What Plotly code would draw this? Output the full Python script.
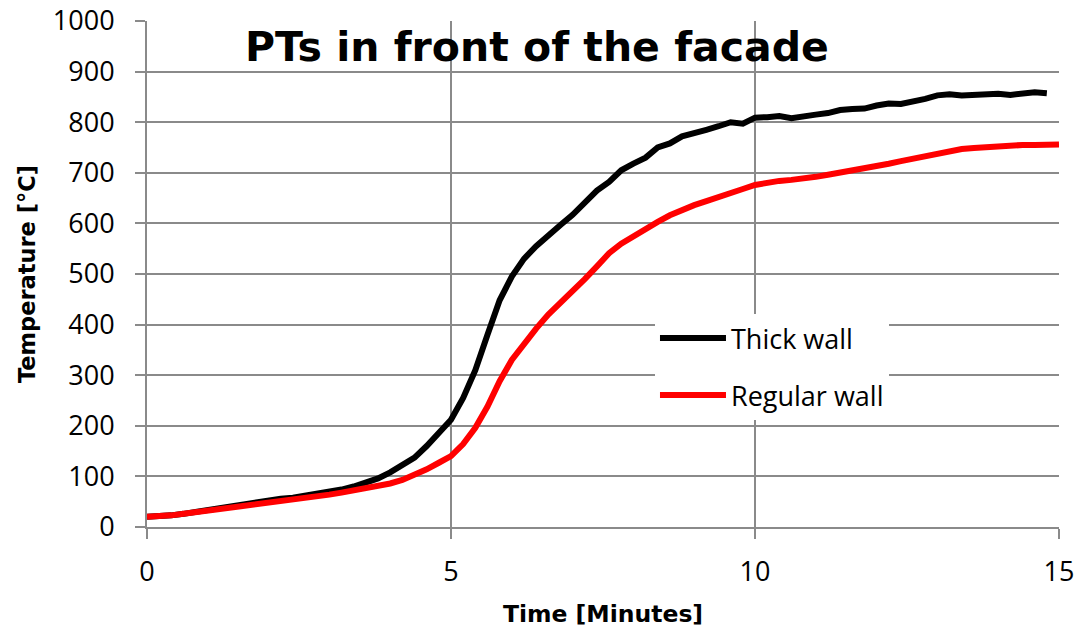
import plotly.graph_objects as go

time_thick = [0.0, 0.2, 0.4, 0.6, 0.8, 1.0, 1.2, 1.4, 1.6, 1.8, 2.0, 2.2, 2.4, 2.6, 2.8,
              3.0, 3.2, 3.4, 3.6, 3.8, 4.0, 4.2, 4.4, 4.6, 4.8, 5.0, 5.2, 5.4, 5.6, 5.8,
              6.0, 6.2, 6.4, 6.6, 6.8, 7.0, 7.2, 7.4, 7.6, 7.8, 8.0, 8.2, 8.4, 8.6, 8.8,
              9.0, 9.2, 9.4, 9.6, 9.8, 10.0, 10.2, 10.4, 10.6, 10.8, 11.0, 11.2, 11.4, 11.6, 11.8,
              12.0, 12.2, 12.4, 12.6, 12.8, 13.0, 13.2, 13.4, 13.6, 13.8, 14.0, 14.2, 14.4, 14.6, 14.8]
temp_thick = [20, 21, 23, 26, 30, 35, 39, 43, 46, 50, 53, 56, 58, 62, 65,
              69, 74, 80, 87, 96, 108, 121, 137, 160, 188, 212, 255, 310, 380, 448,
              495, 530, 555, 578, 597, 617, 640, 665, 682, 705, 718, 730, 750, 758, 772,
              780, 785, 792, 800, 797, 809, 810, 812, 808, 813, 815, 818, 824, 826, 827,
              833, 837, 836, 840, 846, 853, 855, 853, 854, 855, 856, 854, 857, 859, 857]

time_regular = [0.0, 0.2, 0.4, 0.6, 0.8, 1.0, 1.2, 1.4, 1.6, 1.8, 2.0, 2.2, 2.4, 2.6, 2.8,
                3.0, 3.2, 3.4, 3.6, 3.8, 4.0, 4.2, 4.4, 4.6, 4.8, 5.0, 5.2, 5.4, 5.6, 5.8,
                6.0, 6.2, 6.4, 6.6, 6.8, 7.0, 7.2, 7.4, 7.6, 7.8, 8.0, 8.2, 8.4, 8.6, 8.8,
                9.0, 9.2, 9.4, 9.6, 9.8, 10.0, 10.2, 10.4, 10.6, 10.8, 11.0, 11.2, 11.4, 11.6, 11.8,
                12.0, 12.2, 12.4, 12.6, 12.8, 13.0, 13.2, 13.4, 13.6, 13.8, 14.0, 14.2, 14.4, 14.6, 14.8, 15.0]
temp_regular = [20, 21, 23, 26, 29, 33, 37, 40, 43, 46, 49, 52, 55, 57, 60,
                64, 68, 72, 76, 81, 86, 93, 102, 114, 127, 140, 164, 196, 238, 288,
                330, 363, 392, 420, 442, 466, 490, 515, 541, 560, 575, 588, 603, 616, 627,
                636, 644, 653, 661, 668, 676, 681, 684, 686, 688, 692, 696, 700, 705, 709,
                713, 718, 723, 728, 734, 740, 744, 747, 749, 751, 752, 754, 755, 755, 756, 756]

x_ticks = [0, 5, 10, 15]
y_ticks = [0, 100, 200, 300, 400, 500, 600, 700, 800, 900, 1000]

grid = "#8a8a8a"

fig = go.Figure()
fig.add_trace(go.Scatter(x=time_thick, y=temp_thick, mode="lines", name="Thick wall",
                         legendgroup="a", line=dict(color="#000000", width=6)))
fig.add_trace(go.Scatter(x=time_regular, y=temp_regular, mode="lines", name="Regular wall",
                         legendgroup="b", line=dict(color="#ff0000", width=6)))

fig.update_layout(
    width=1081, height=634,
    margin=dict(l=147, r=22, t=21, b=107, autoexpand=False),
    paper_bgcolor="white", plot_bgcolor="white",
    font=dict(family="Open Sans", color="black"),
    showlegend=True,
    legend=dict(x=0.557, y=0.421, xanchor="left", yanchor="top",
                bgcolor="white", font=dict(size=27, family="Open Sans"),
                traceorder="grouped", tracegroupgap=19, itemwidth=66),
    annotations=[dict(text="<b>PTs in front of the facade</b>", xref="paper", yref="paper",
                      x=0.428, y=0.949, xanchor="center", yanchor="middle", showarrow=False,
                      font=dict(size=41, family="DejaVu Sans", color="black"))],
)
fig.update_xaxes(range=[0, 15], tickvals=x_ticks, showgrid=True, gridcolor=grid, gridwidth=2,
                 showline=True, linecolor=grid, linewidth=2, zeroline=False, automargin=False,
                 ticks="outside", ticklen=10, tickwidth=2, tickcolor=grid, ticklabeloverflow="allow",
                 tickfont=dict(size=27, family="Open Sans"), ticklabelstandoff=10,
                 title=dict(text="<b>Time [Minutes]</b>", font=dict(size=23.5, family="DejaVu Sans"), standoff=17))
fig.update_yaxes(range=[0, 1000], tickvals=y_ticks, showgrid=True, gridcolor=grid, gridwidth=2,
                 showline=True, linecolor=grid, linewidth=2, zeroline=False, automargin=False,
                 ticks="outside", ticklen=10, tickwidth=2, tickcolor=grid, ticklabeloverflow="allow",
                 tickfont=dict(size=27, family="Open Sans"), ticklabelstandoff=15,
                 title=dict(text="<b>Temperature [°C]</b>", font=dict(size=22.5, family="DejaVu Sans"), standoff=11))

fig.write_html("out.html", config={"displayModeBar": False},
               post_script="document.body.style.margin='0';")
